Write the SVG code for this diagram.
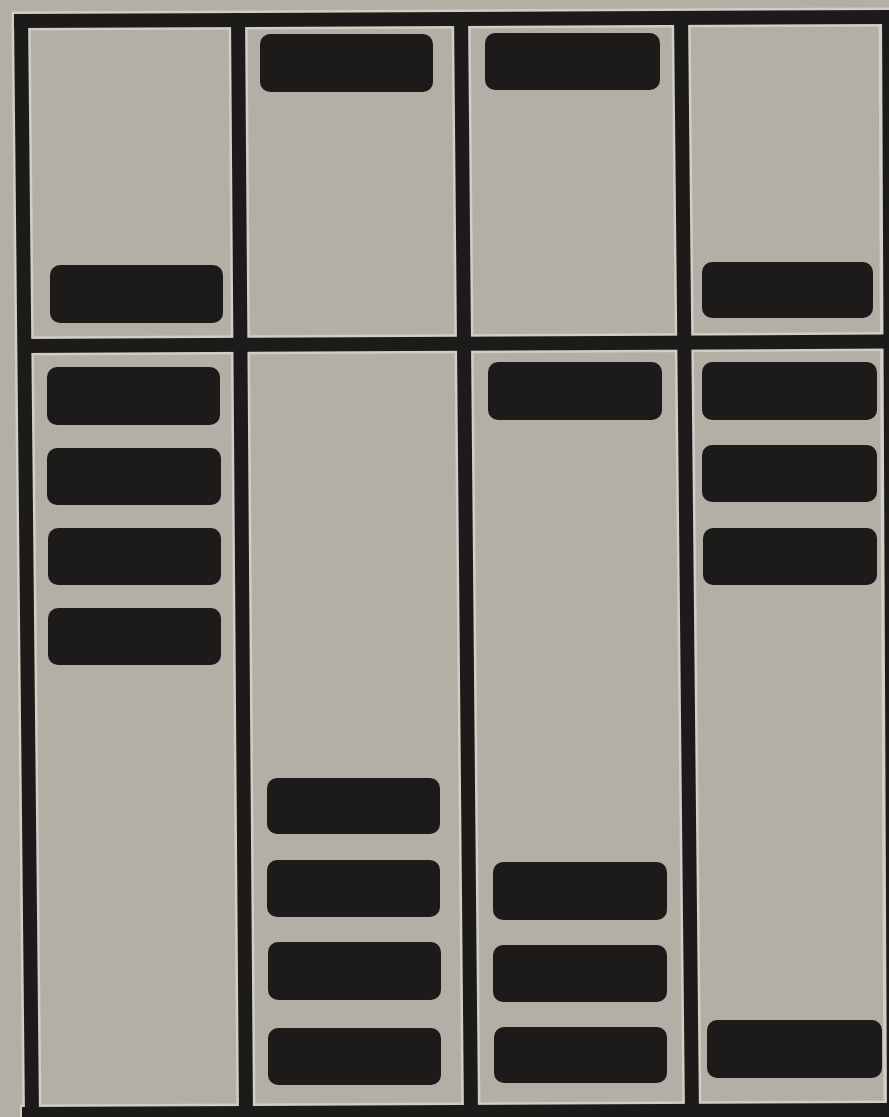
<svg xmlns="http://www.w3.org/2000/svg" width="889" height="1117" viewBox="0 0 889 1117">
<style>
.halo{stroke:#d0cec6;stroke-width:19;fill:none}
.line{stroke:#1c1b19;stroke-width:14;fill:none}
.band{fill:#1d1b1a}
</style>
<rect x="0" y="0" width="889" height="1117" fill="#b3afa7"/>
<g id="frame-halo">
<line class="halo" x1="12" y1="21" x2="895" y2="17"/>
<line class="halo" x1="18" y1="346" x2="895" y2="341.5"/>
<line class="halo" x1="20" y1="1114" x2="895" y2="1110"/>
<line class="halo" x1="21" y1="12" x2="32" y2="1117"/>
<line class="halo" x1="238" y1="12" x2="246" y2="1117"/>
<line class="halo" x1="461" y1="11" x2="471" y2="1117"/>
<line class="halo" x1="681" y1="10" x2="692" y2="1117"/>
<line class="halo" x1="888" y1="10" x2="893" y2="1117"/>
</g>
<g id="frame">
<line class="line" x1="14" y1="21" x2="895" y2="17"/>
<line class="line" x1="22" y1="346" x2="895" y2="341.5"/>
<line class="line" x1="22" y1="1114" x2="895" y2="1110"/>
<line class="line" x1="21" y1="14" x2="32" y2="1117"/>
<line class="line" x1="238" y1="13" x2="246" y2="1117"/>
<line class="line" x1="461" y1="12" x2="471" y2="1117"/>
<line class="line" x1="681" y1="12" x2="692" y2="1117"/>
<line class="line" x1="889" y1="11" x2="894" y2="1117"/>
</g>
<g id="lane1">
<rect class="band" x="50" y="265" width="173" height="58" rx="10"/>
<rect class="band" x="47" y="367" width="173" height="58" rx="10"/>
<rect class="band" x="47" y="448" width="174" height="57" rx="10"/>
<rect class="band" x="48" y="528" width="173" height="57" rx="10"/>
<rect class="band" x="48" y="608" width="173" height="57" rx="10"/>
</g>
<g id="lane2">
<rect class="band" x="260" y="34" width="173" height="58" rx="10"/>
<rect class="band" x="267" y="778" width="173" height="56" rx="10"/>
<rect class="band" x="267" y="860" width="173" height="57" rx="10"/>
<rect class="band" x="268" y="942" width="173" height="58" rx="10"/>
<rect class="band" x="268" y="1028" width="173" height="57" rx="10"/>
</g>
<g id="lane3">
<rect class="band" x="485" y="33" width="175" height="57" rx="10"/>
<rect class="band" x="488" y="362" width="174" height="58" rx="10"/>
<rect class="band" x="493" y="862" width="174" height="58" rx="10"/>
<rect class="band" x="493" y="945" width="174" height="57" rx="10"/>
<rect class="band" x="494" y="1027" width="173" height="56" rx="10"/>
</g>
<g id="lane4">
<rect class="band" x="702" y="262" width="171" height="56" rx="10"/>
<rect class="band" x="702" y="362" width="175" height="58" rx="10"/>
<rect class="band" x="702" y="445" width="175" height="57" rx="10"/>
<rect class="band" x="703" y="528" width="174" height="57" rx="10"/>
<rect class="band" x="707" y="1020" width="175" height="58" rx="10"/>
</g>
</svg>
